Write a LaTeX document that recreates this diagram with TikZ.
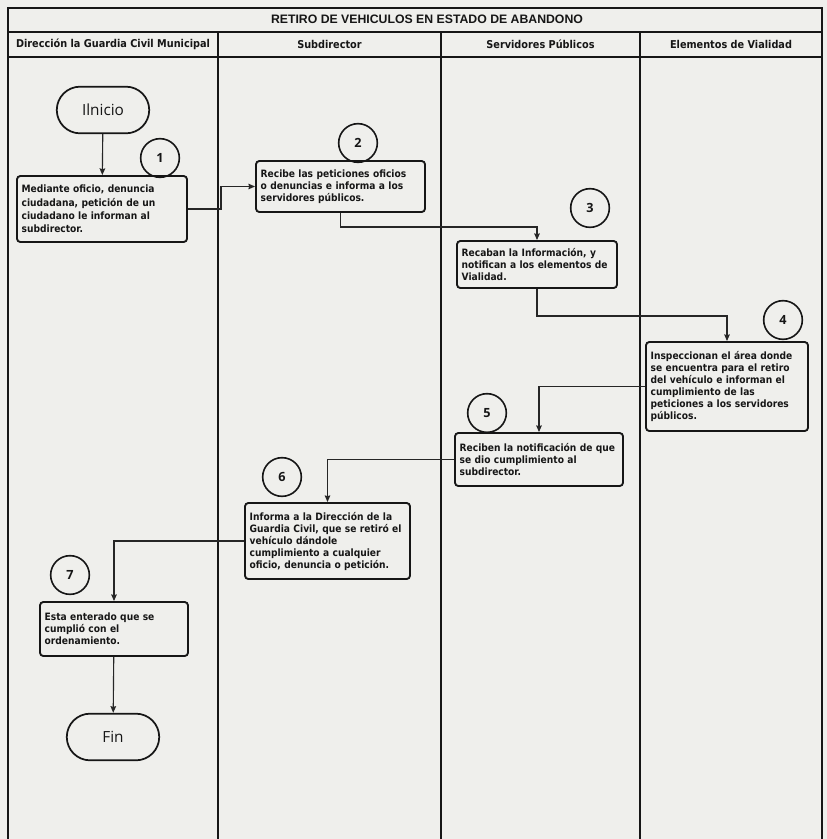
\documentclass[tikz,border=0pt]{standalone}
\usepackage{fontspec}
\setsansfont{Open Sans}
\newfontfamily\headfont{Liberation Sans}
\newfontfamily\boxfont{DejaVu Sans Condensed}
\usetikzlibrary{arrows.meta, positioning, shapes.misc}
\definecolor{paper}{HTML}{EFEFEC}
\definecolor{ink}{HTML}{161616}
\definecolor{wire}{HTML}{262626}
\tikzset{
  box/.style={
    rectangle, draw=ink, line width=1.4pt, rounded corners=2.5pt, align=left,
    inner sep=3.5pt, font=\boxfont\bfseries\fontsize{7.6}{9}\selectfont, text=ink
  },
  term/.style={
    rounded rectangle, draw=ink, line width=1.3pt, minimum width=76pt,
    minimum height=35pt, font=\sffamily\fontsize{11.5}{13}\selectfont, text=ink
  },
  numc/.style={
    circle, draw=ink, line width=1.2pt, minimum size=29pt, inner sep=0pt,
    font=\sffamily\bfseries\fontsize{9.5}{11}\selectfont, text=ink
  },
  arr/.style={-{Stealth[length=5pt, width=4.2pt, inset=0.6pt]}, line width=0.85pt, draw=wire},
  lane/.style={line width=1.2pt, draw=ink},
  hdr/.style={font=\boxfont\bfseries\fontsize{8.1}{9.5}\selectfont, text=ink}
}

\begin{document}
\begin{tikzpicture}[x=0.75pt, y=-0.75pt]

% ---------------- Paper ----------------
\fill[paper] (0,0) rectangle (827,839);
\useasboundingbox (0,0) rectangle (827,839);

% ---------------- Lanes ----------------
\draw[lane] (8,839) -- (8,8) -- (822,8) -- (822,839);
\draw[lane] (8,32) -- (822,32);
\draw[lane] (8,57) -- (822,57);
\foreach \xl in {218,441,640}
  \draw[lane] (\xl,32) -- (\xl,839);

\node[font=\headfont\bfseries\fontsize{9.2}{11}\selectfont, text=ink] (title) at (427,19) {RETIRO DE VEHICULOS EN ESTADO DE ABANDONO};
\node[hdr] (hdDir) at (113,44.5) {Dirección la Guardia Civil Municipal};
\node[hdr] (hdSub) at (329.5,44.5) {Subdirector};
\node[hdr] (hdServ) at (540.5,44.5) {Servidores Públicos};
\node[hdr] (hdElem) at (731,44.5) {Elementos de Vialidad};

% ---------------- Steps ----------------
\node[term] (inicio) at (103,110) {Ilnicio};
\node[box, text width=120.5pt, minimum height=49.5pt, font=\boxfont\bfseries\fontsize{7.6}{10}\selectfont] (mediante) at (102,209)
  {Mediante oficio, denuncia\\ciudadana, petición de un\\ciudadano le informan al\\subdirector.};
\node[box, text width=119.75pt, minimum height=38.25pt] (recibe) at (340.5,186.5)
  {Recibe las peticiones oficios\\o denuncias e informa a los\\servidores públicos.};
\node[box, text width=113pt, minimum height=35.25pt] (recaban) at (537,264.5)
  {Recaban la Información, y\\notifican a los elementos de\\Vialidad.};
\node[box, text width=114.5pt, minimum height=66.75pt] (inspeccionan) at (727,386.5)
  {Inspeccionan el área donde\\se encuentra para el retiro\\del vehículo e informan el\\cumplimiento de las\\peticiones a los servidores\\públicos.};
\node[box, text width=119pt, minimum height=39.75pt] (reciben) at (539,459.5)
  {Reciben la notificación de que\\se dio cumplimiento al\\subdirector.};
\node[box, text width=116.75pt, minimum height=57pt] (informa) at (327.5,541)
  {Informa a la Dirección de la\\Guardia Civil, que se retiró el\\vehículo dándole\\cumplimiento a cualquier\\oficio, denuncia o petición.};
\node[box, text width=104pt, minimum height=40.5pt] (enterado) at (114,629)
  {Esta enterado que se\\cumplió con el\\ordenamiento.};
\node[term] (fin) at (113,737) {Fin};

% ---------------- Numbers ----------------
\node[numc] (num1) at (160,158) {1};
\node[numc] (num2) at (358,143) {2};
\node[numc] (num3) at (590,208) {3};
\node[numc] (num4) at (783,320) {4};
\node[numc] (num5) at (487,413) {5};
\node[numc] (num6) at (282,477) {6};
\node[numc] (num7) at (70,575) {7};

% ---------------- Flow ----------------
\draw[arr] (inicio) -- (mediante);
\draw[arr] (mediante.east) -- ++(33,0) |- (recibe.west);
\draw[arr] (recibe.south) -- ++(0,14) -| (recaban.north);
\draw[arr] (recaban.south) -- ++(0,27) -| (inspeccionan.north);
\draw[arr] (inspeccionan.west) -| (reciben.north);
\draw[arr] (reciben.west) -| (informa.north);
\draw[arr] (informa.west) -| (enterado.north);
\draw[arr] (enterado) -- (fin);

\end{tikzpicture}
\end{document}
